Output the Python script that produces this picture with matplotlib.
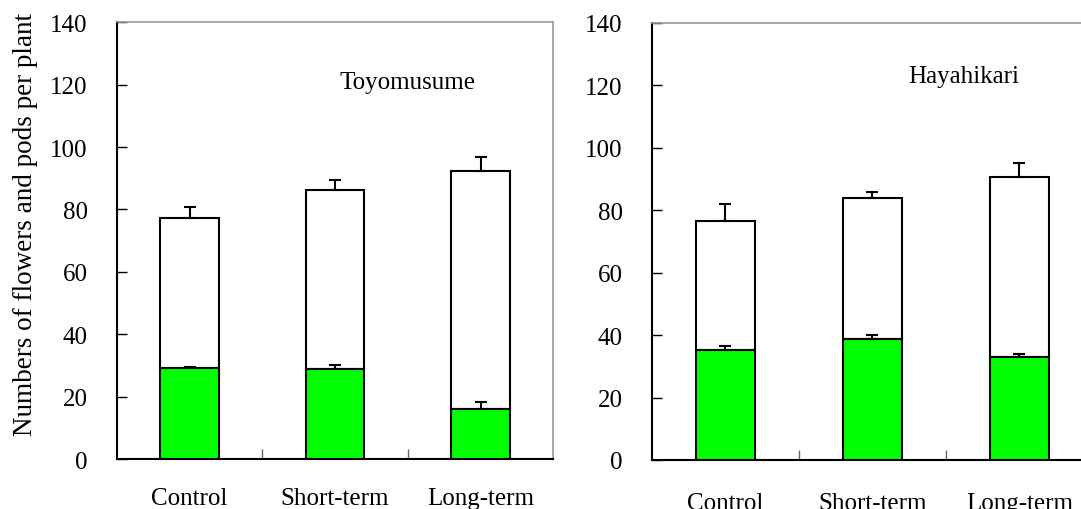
import numpy as np
import matplotlib.pyplot as plt

plt.rcParams['font.family'] = ['Liberation Serif', 'DejaVu Serif']

treatments = ['Control', 'Short-term', 'Long-term']
cultivars = ['Toyomusume', 'Hayahikari']

# flowers (total) and pods per plant, with upper SE
flowers = {'Toyomusume': [77.3, 86.2, 92.3], 'Hayahikari': [76.7, 84.0, 90.8]}
flowers_se = {'Toyomusume': [3.5, 3.2, 4.4], 'Hayahikari': [5.3, 1.8, 4.4]}
pods = {'Toyomusume': [29.2, 29.0, 16.0], 'Hayahikari': [35.3, 38.8, 32.9]}
pods_se = {'Toyomusume': [0.4, 1.1, 2.4], 'Hayahikari': [1.2, 1.2, 1.1]}

title_pos = {'Toyomusume': (1.5, 121), 'Hayahikari': (1.62, 123)}
label_pad = {'Toyomusume': 20, 'Hayahikari': 23}

fig = plt.figure(figsize=(10.81, 5.10), dpi=100)
ax_rects = [[0.108, 0.098, 0.4039, 0.8563], [0.6031, 0.0961, 0.408, 0.857]]

x = np.arange(len(treatments))
for name, rect in zip(cultivars, ax_rects):
    ax = fig.add_axes(rect)
    fl = np.array(flowers[name])
    pd_ = np.array(pods[name])
    zeros = np.zeros(len(x))
    # white part (flowers not setting pods) stacked on green pods
    ax.bar(x, fl - pd_, 0.4, bottom=pd_, color='white', edgecolor='black',
           linewidth=1.5, zorder=2)
    ax.errorbar(x, fl, yerr=[zeros, flowers_se[name]], fmt='none',
                ecolor='black', elinewidth=1.5, capsize=4.5, capthick=1.5, zorder=3)
    ax.errorbar(x, pd_, yerr=[zeros, pods_se[name]], fmt='none',
                ecolor='black', elinewidth=1.5, capsize=4.5, capthick=1.5, zorder=3)
    ax.bar(x, pd_, 0.4, color='#00ff00', edgecolor='black', linewidth=1.5, zorder=4)

    ax.set_xlim(-0.5, 2.5)
    ax.set_ylim(0, 140)
    ax.set_yticks(np.arange(0, 141, 20))
    ax.tick_params(axis='y', direction='in', length=7, width=1, pad=21,
                   labelsize=18)
    ax.set_xticks([0.5, 1.5])
    ax.set_xticklabels([])
    ax.tick_params(axis='x', which='major', direction='in', length=7, width=1,
                   color='#666666')
    ax.set_xticks(x, minor=True)
    ax.set_xticklabels(treatments, minor=True)
    ax.tick_params(axis='x', which='minor', length=0, pad=label_pad[name],
                   labelsize=18)

    ax.spines['left'].set_linewidth(1.5)
    ax.spines['bottom'].set_linewidth(1.5)
    for s in ['top', 'right']:
        ax.spines[s].set_color('#999999')
        ax.spines[s].set_linewidth(1.2)

    tx, ty = title_pos[name]
    ax.text(tx, ty, name, ha='center', va='center', fontsize=18)

    if name == 'Toyomusume':
        ax.set_ylabel('Numbers of flowers and pods per plant', fontsize=19.5)
        ax.yaxis.set_label_coords(-0.181, 0.539)

fig.savefig('out.png', dpi=100)
